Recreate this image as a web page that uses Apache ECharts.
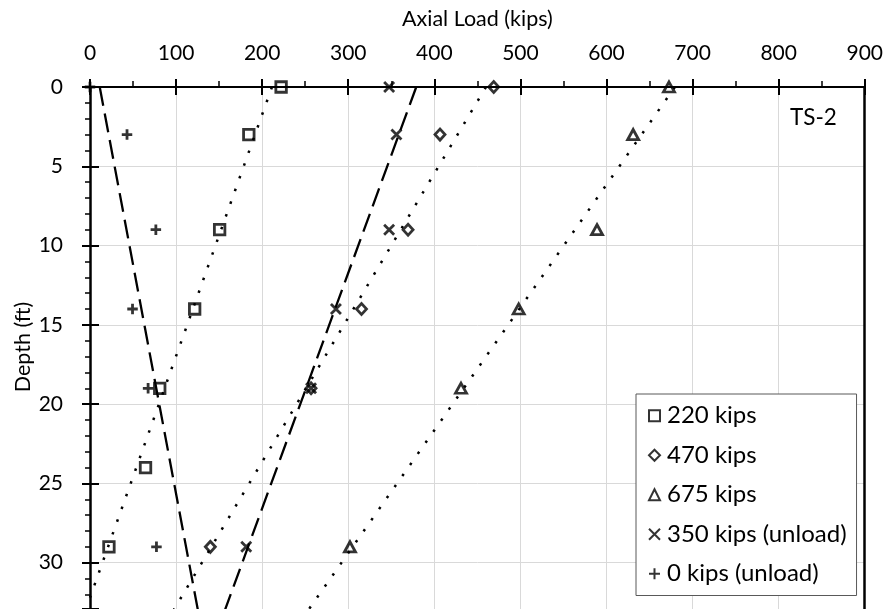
<!DOCTYPE html>
<html>
<head>
<meta charset="utf-8">
<script src="https://cdn.jsdelivr.net/npm/echarts@6/dist/echarts.min.js"></script>
<style>
html,body{margin:0;padding:0;background:#fff;}
#chart{width:886px;height:609px;}
</style>
</head>
<body>
<div id="chart"></div>
<script>
// ---- data ----
const xTicks = [0,100,200,300,400,500,600,700,800,900];
const yTicks = [0,5,10,15,20,25,30];
const depth220 = [0,3,9,14,19,24,29];
const load220  = [222,184.5,150.6,121.6,81,64.5,22];
const depthOther = [0,3,9,14,19,29];
const load470  = [469,406.6,369.5,315.4,256.8,139.8];
const load675  = [672.6,631,589,498,431,302];
const load350u = [347.5,356,347.5,285.7,256.8,181.5];
const load0u   = [0,43,76.5,49.4,67.5,77.2];
// trend lines (load at ends, depth at ends)
const trend220Load = [211.4,0];   const trend220Depth = [0,32.2];
const trend470Load = [460,75];    const trend470Depth = [0,35];
const trend675Load = [679.5,227.6]; const trend675Depth = [0,35];
const trend350Load = [379,143.2]; const trend350Depth = [0,35];
const trend0Load   = [11.3,132.3]; const trend0Depth = [0,35];
const seriesNames = ['220 kips','470 kips','675 kips','350 kips (unload)','0 kips (unload)'];

const FONT = 'Lato';
const pair = (xs, ds) => xs.map((x,i)=>[x, ds[i]]);

const chart = echarts.init(document.getElementById('chart'), null, {renderer:'canvas'});

const markerStyle = {color:'transparent', borderColor:'#000', borderWidth:2.8};
const scatter = (name, data, symbol, size) => ({
  name, type:'scatter', data, symbol, symbolSize:size,
  xAxisIndex:0, yAxisIndex:0, itemStyle:markerStyle, z:5, silent:true
});
const trend = (data, type) => ({
  type:'line', data, symbol:'none', xAxisIndex:0, yAxisIndex:0, silent:true, z:3, clip:true,
  lineStyle: type==='dot' ? {color:'#000', width:2.5, type:[2.5,11]} : {color:'#000', width:2.3, type:[19,8]}
});

const xBase = {
  type:'value', min:0, max:900, interval:100, position:'top', gridIndex:0
};
const yBase = {
  type:'value', min:0, max:32.92, interval:5, inverse:true, gridIndex:0
};

chart.setOption({
  animation:false,
  backgroundColor:'#fff',
  textStyle:{fontFamily:FONT},
  grid:{left:90, top:87, width:775.7, height:522, containLabel:false},
  xAxis:[
    Object.assign({}, xBase, {
      name:'Axial Load (kips)', nameLocation:'middle', nameGap:68,
      nameTextStyle:{fontFamily:FONT, fontSize:21.5, color:'#000', verticalAlign:'middle'},
      axisLine:{show:true, lineStyle:{color:'#000', width:2}},
      axisTick:{show:true, inside:false, length:8, lineStyle:{color:'#000', width:2}},
      minorTick:{show:true, splitNumber:2, length:6, lineStyle:{color:'#000', width:1.5}},
      axisLabel:{show:true, margin:23, fontFamily:FONT, fontSize:21, color:'#000',
        formatter:v=>xTicks.includes(v)?String(v):''},
      splitLine:{show:true, lineStyle:{color:'#d9d9d9', width:1}}
    }),
    Object.assign({}, xBase, {
      axisLine:{show:false},
      axisTick:{show:true, inside:true, length:8, lineStyle:{color:'#000', width:2}},
      axisLabel:{show:false}, splitLine:{show:false}
    })
  ],
  yAxis:[
    Object.assign({}, yBase, {
      position:'left',
      axisLine:{show:true, onZero:false, lineStyle:{color:'#000', width:2.5}},
      axisTick:{show:true, inside:false, length:8, lineStyle:{color:'#000', width:2}},
      minorTick:{show:true, splitNumber:5, length:5, lineStyle:{color:'#000', width:1.5}},
      axisLabel:{show:true, margin:27, fontFamily:FONT, fontSize:21, color:'#000',
        formatter:v=>yTicks.includes(v)?String(v):''},
      splitLine:{show:true, lineStyle:{color:'#d9d9d9', width:1}}
    }),
    Object.assign({}, yBase, {
      position:'left',
      axisLine:{show:false},
      axisTick:{show:true, inside:true, length:9, lineStyle:{color:'#000', width:2}},
      axisLabel:{show:false}, splitLine:{show:false}
    }),
    Object.assign({}, yBase, {
      position:'right',
      axisLine:{show:true, onZero:false, lineStyle:{color:'#000', width:2.5}},
      axisTick:{show:false}, axisLabel:{show:false}, splitLine:{show:false}
    })
  ],
  legend:{
    data:seriesNames, orient:'vertical', left:636, top:394,
    padding:[9,10,9,12], itemGap:14, itemWidth:11, itemHeight:11,
    backgroundColor:'#fff', borderColor:'#595959', borderWidth:1, borderRadius:0,
    textStyle:{fontFamily:FONT, fontSize:24, color:'#000', lineHeight:25.5, padding:[0,0,0,2]},
    selectedMode:false
  },
  graphic:[
    {type:'text', left:790, top:106, style:{text:'TS-2', fontFamily:FONT, fontSize:22.5, fill:'#000'}},
    {type:'text', x:23, y:347, rotation:Math.PI/2,
      style:{text:'Depth (ft)', fontFamily:FONT, fontSize:21.5, fill:'#000', align:'center', verticalAlign:'middle'}}
  ],
  series:[
    trend(pair(trend220Load, trend220Depth),'dot'),
    trend(pair(trend470Load, trend470Depth),'dot'),
    trend(pair(trend675Load, trend675Depth),'dot'),
    trend(pair(trend350Load, trend350Depth),'dash'),
    trend(pair(trend0Load, trend0Depth),'dash'),
    scatter(seriesNames[0], pair(load220, depth220), 'rect', 10.5),
    scatter(seriesNames[1], pair(load470, depthOther), 'diamond', [10,11]),
    scatter(seriesNames[2], pair(load675, depthOther), 'triangle', [11,10]),
    scatter(seriesNames[3], pair(load350u, depthOther), 'path://M0,0L10,10M10,0L0,10', 10),
    scatter(seriesNames[4], pair(load0u, depthOther), 'path://M5,0L5,10M0,5L10,5', 10.5)
  ]
});
</script>
</body>
</html>
